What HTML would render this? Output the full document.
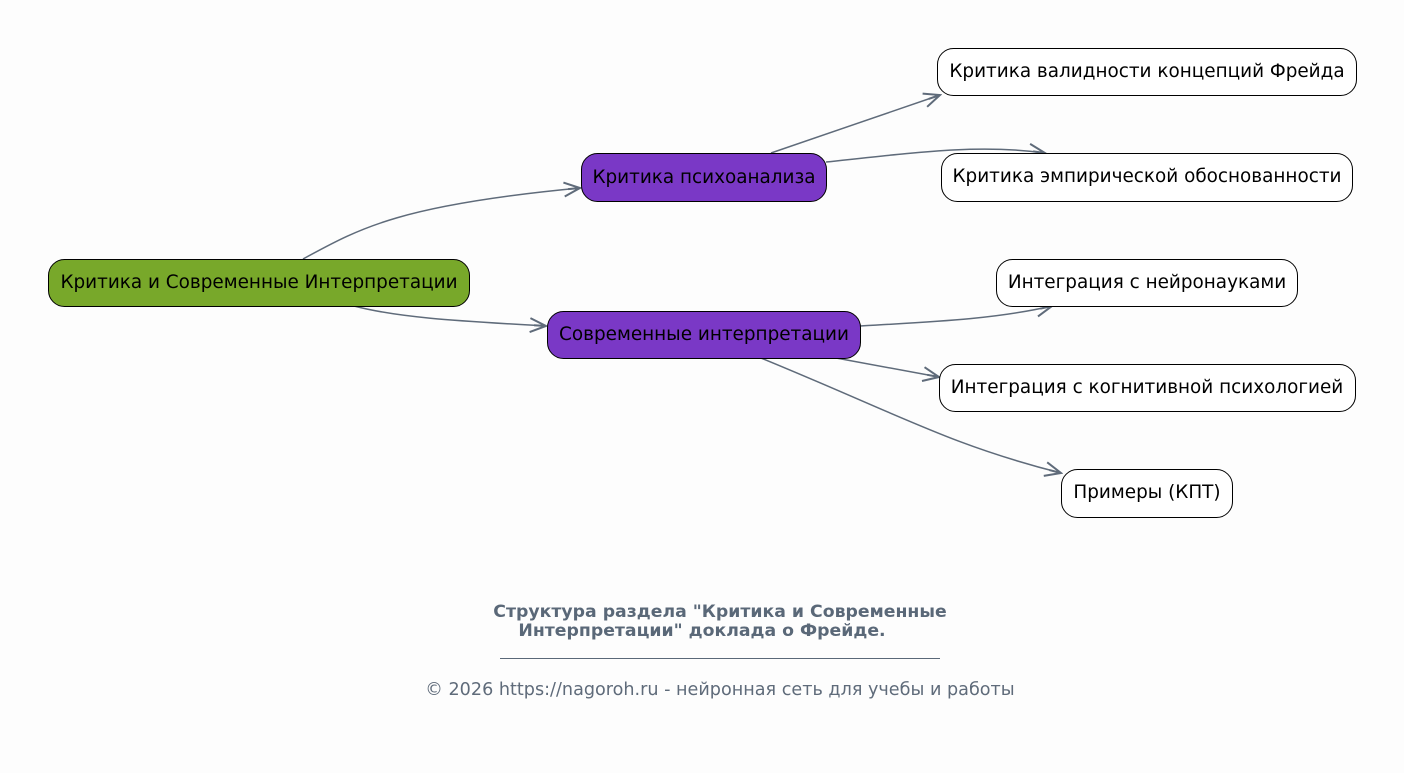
<!DOCTYPE html>
<html><head><meta charset="utf-8"><style>
html,body{margin:0;padding:0;background:#fdfdfd;}
svg{display:block;font-family:"DejaVu Sans","Liberation Sans",sans-serif;}
</style></head><body>
<svg width="1404" height="773" viewBox="0 0 1404 773" xmlns="http://www.w3.org/2000/svg">
<defs>
<marker id="a" viewBox="0 0 20 20" refX="18" refY="10" markerWidth="20" markerHeight="20" markerUnits="userSpaceOnUse" orient="auto">
<path d="M2,3 L18,10 L2,17 M18,10 L6,10" fill="none" stroke="#5f6b7a" stroke-width="2"/>
</marker>
</defs>
<g fill="none" stroke="#5f6b7a" stroke-width="1.5" marker-end="url(#a)">
<path d="M303,259 C360,228 400,205 580,188"/>
<path d="M354,306 C400,318 460,321 546,326"/>
<path d="M771,153 L940,95"/>
<path d="M826,162 C920,152 980,144 1045,153"/>
<path d="M860,326 C950,321 1000,318 1052,306"/>
<path d="M836,358 L939,377"/>
<path d="M761,358 C900,415 950,445 1061,473"/>
</g>
<g stroke="#000" stroke-width="1">
<rect x="48.5" y="259.5" width="421" height="47" rx="16" fill="#78a82a"/>
<rect x="581.5" y="153.5" width="245" height="48" rx="16" fill="#7a38c6"/>
<rect x="547.5" y="311.5" width="313" height="47" rx="16" fill="#7a38c6"/>
<rect x="937.5" y="48.5" width="419" height="47" rx="16" fill="#fff"/>
<rect x="941.5" y="153.5" width="411" height="48" rx="16" fill="#fff"/>
<rect x="996.5" y="259.5" width="301" height="47" rx="16" fill="#fff"/>
<rect x="939.5" y="364.5" width="416" height="47" rx="16" fill="#fff"/>
<rect x="1061.5" y="469.5" width="171" height="48" rx="16" fill="#fff"/>
</g>
<g font-size="18.4" fill="#000" text-anchor="middle">
<text x="259" y="288">Критика и Современные Интерпретации</text>
<text x="704" y="183">Критика психоанализа</text>
<text x="704" y="340">Современные интерпретации</text>
<text x="1147" y="77">Критика валидности концепций Фрейда</text>
<text x="1147" y="182">Критика эмпирической обоснованности</text>
<text x="1147" y="288">Интеграция с нейронауками</text>
<text x="1147" y="393">Интеграция с когнитивной психологией</text>
<text x="1147" y="498">Примеры (КПТ)</text>
</g>
<g fill="#5a6878" text-anchor="middle">
<text x="720" y="617" font-size="17.3" font-weight="bold">Структура раздела "Критика и Современные</text>
<text x="702" y="636" font-size="17.3" font-weight="bold">Интерпретации" доклада о Фрейде.</text>
<line x1="500" y1="658.5" x2="940" y2="658.5" stroke="#5a6878" stroke-width="1"/>
<text x="720" y="695" font-size="17.6" fill="#5f6b7a">© 2026 https://nagoroh.ru - нейронная сеть для учебы и работы</text>
</g>
</svg>
</body></html>
